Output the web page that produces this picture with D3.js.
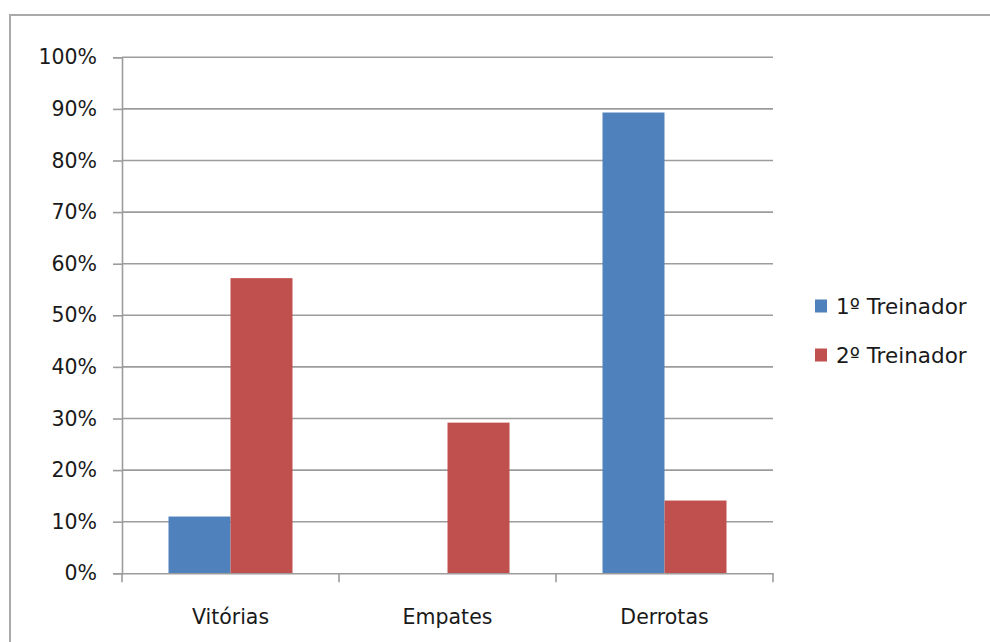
<!DOCTYPE html>
<html>
<head>
<meta charset="utf-8">
<script src="https://cdn.jsdelivr.net/npm/d3@7"></script>
<style>
  html, body { margin: 0; padding: 0; background: #fff; }
  svg { display: block; font-family: "DejaVu Sans", Verdana, sans-serif; }
</style>
</head>
<body>
<svg id="chart" width="990" height="642"></svg>
<script>
// Resultados por treinador (% dos jogos)
const categories = ["Vitórias", "Empates", "Derrotas"];
const seriesNames = ["1º Treinador", "2º Treinador"];
const treinador1 = [11.0, 0, 89.3];
const treinador2 = [57.2, 29.2, 14.1];
const yTicks = [0, 10, 20, 30, 40, 50, 60, 70, 80, 90, 100];
const colors = ["#4f81bd", "#c0504d"];

const series = [treinador1, treinador2];

const svg = d3.select("#chart");
const W = 990, H = 642;

// Frame around the chart
svg.append("path")
  .attr("d", `M10,${H} L10,15 L${W},15`)
  .attr("fill", "none")
  .attr("stroke", "#a9a9a9")
  .attr("stroke-width", 2);

const plot = { left: 122, right: 773, top: 57.3, bottom: 573.3 };

const x = d3.scaleBand()
  .domain(categories)
  .range([plot.left, plot.right])
  .paddingInner(0)
  .paddingOuter(0);

const inner = d3.scaleBand()
  .domain(d3.range(seriesNames.length))
  .range([0, x.bandwidth()])
  .paddingOuter(0.75)
  .paddingInner(0);

const y = d3.scaleLinear().domain([0, 100]).range([plot.bottom, plot.top]);

const gridColor = "#9c9c9c";

// Horizontal gridlines
svg.append("g")
  .selectAll("line")
  .data(yTicks.filter(d => d > 0))
  .join("line")
  .attr("x1", plot.left).attr("x2", plot.right)
  .attr("y1", d => y(d)).attr("y2", d => y(d))
  .attr("stroke", gridColor).attr("stroke-width", 1.6);

// Bars
const groups = svg.append("g")
  .selectAll("g")
  .data(categories)
  .join("g")
  .attr("transform", d => `translate(${x(d)},0)`);

groups.selectAll("rect")
  .data((c, i) => series.map((s, k) => ({ k, v: s[i] })))
  .join("rect")
  .attr("x", d => inner(d.k))
  .attr("width", inner.bandwidth())
  .attr("y", d => y(d.v))
  .attr("height", d => y(0) - y(d.v))
  .attr("fill", d => colors[d.k]);

// Y axis
const yAxis = d3.axisLeft(y)
  .tickValues(yTicks)
  .tickFormat(d => d + "%")
  .tickSize(9)
  .tickPadding(16);

const gy = svg.append("g")
  .attr("transform", `translate(${plot.left},0)`)
  .call(yAxis);
gy.select(".domain").attr("stroke", gridColor).attr("stroke-width", 1.6);
gy.selectAll(".tick line").attr("stroke", gridColor).attr("stroke-width", 1.6);
gy.selectAll(".tick text")
  .attr("fill", "#1a1a1a")
  .style("font-size", "20.5px")
  .style("font-family", "'DejaVu Sans', sans-serif");

// X axis
const xAxis = d3.axisBottom(x).tickSize(0).tickPadding(36);
const gx = svg.append("g")
  .attr("transform", `translate(0,${plot.bottom})`)
  .call(xAxis);
gx.select(".domain").attr("stroke", gridColor).attr("stroke-width", 1.6);
gx.selectAll(".tick text")
  .attr("fill", "#1a1a1a")
  .style("font-size", "20.5px")
  .style("font-family", "'DejaVu Sans', sans-serif");

// Category separators below the axis
svg.append("g")
  .selectAll("line")
  .data(categories.map(c => x(c)).concat([plot.right]))
  .join("line")
  .attr("x1", d => d).attr("x2", d => d)
  .attr("y1", plot.bottom).attr("y2", plot.bottom + 9)
  .attr("stroke", gridColor).attr("stroke-width", 1.6);

// Legend
const legend = svg.append("g").attr("transform", "translate(815,306)");
const items = legend.selectAll("g")
  .data(seriesNames)
  .join("g")
  .attr("transform", (d, i) => `translate(0,${i * 49})`);
items.append("rect")
  .attr("x", 0).attr("y", -6.5)
  .attr("width", 12).attr("height", 13)
  .attr("fill", (d, i) => colors[i]);
items.append("text")
  .attr("x", 21).attr("y", 0)
  .attr("dy", "0.35em")
  .attr("fill", "#1a1a1a")
  .style("font-size", "21.5px")
  .text(d => d);
</script>
</body>
</html>
